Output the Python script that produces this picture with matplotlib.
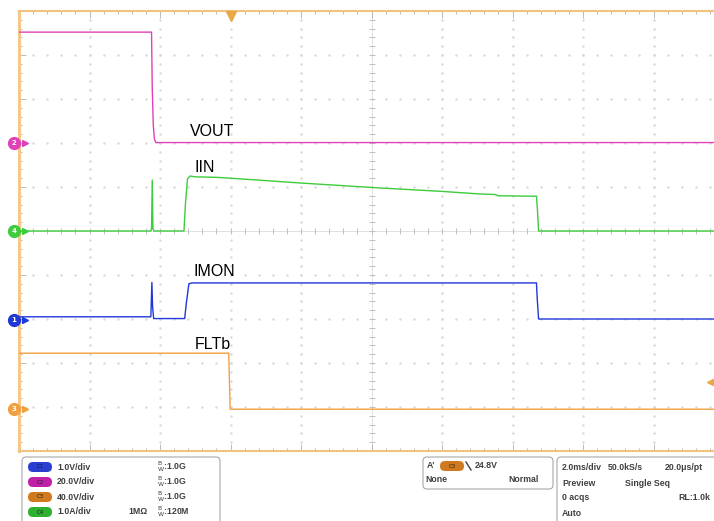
import numpy as np
import matplotlib.pyplot as plt
from matplotlib.patches import FancyBboxPatch

# Data read from the scope capture (time in ms, 2 ms/div)
vout_t = [0, 3.76, 3.78, 3.81, 3.84, 3.88, 20]
vout_v = [50.4, 50.4, 25.0, 8.0, 2.0, 0.2, 0.2]          # V, 20 V/div

iin_t = [0, 3.74, 3.76, 3.78, 3.80, 3.83, 4.68, 4.72, 4.78, 4.85, 5.0, 5.6,
         6.0, 8.0, 10.2, 12.0, 13.1, 13.5, 13.6, 14.68, 14.71, 14.74, 20]
iin_a = [0, 0, 0.05, 1.16, 0.05, 0, 0, 0.6, 1.18, 1.25, 1.23, 1.22,
         1.20, 1.09, 0.98, 0.90, 0.84, 0.83, 0.80, 0.79, 0.45, 0, 0]   # A, 1 A/div

imon_t = [0, 3.74, 3.77, 3.79, 3.82, 3.86, 4.70, 4.75, 4.82, 4.9, 14.68, 14.70, 14.74, 20]
imon_v = [0.07, 0.07, 0.85, 0.3, 0.03, 0.03, 0.03, 0.4, 0.82, 0.84, 0.84, 0.5, 0.02, 0.02]  # V, 1 V/div

fltb_t = [0, 5.95, 5.99, 20]
fltb_v = [50.9, 50.9, 0, 0]                                # V, 40 V/div

# channel settings: name, scale per div, marker position (div), colour, channel number
channels = [
    ('VOUT', 20.0, 2.0, '#e040b8', '2', vout_t, vout_v),
    ('IIN', 1.0, 0.0, '#3ccc3c', '4', iin_t, iin_a),
    ('IMON', 1.0, -2.02, '#2038d8', '1', imon_t, imon_v),
    ('FLTb', 40.0, -4.05, '#f0a040', '3', fltb_t, fltb_v),
]
label_pos = {'VOUT': (4.85, 2.27), 'IIN': (4.99, 1.45), 'IMON': (4.94, -0.93), 'FLTb': (4.99, -2.59)}

fig = plt.figure(figsize=(7.14, 5.21), dpi=100)
ax = fig.add_axes([19 / 714, 70 / 521, 705 / 714, 440 / 521])
ax.set_xlim(0, 20)
ax.set_ylim(-5, 5)

# dotted graticule
xs_minor = np.arange(0, 20.01, 0.4)
ys_minor = np.arange(-5, 5.01, 0.2)
for gx in range(2, 20, 2):
    if gx != 10:
        ax.plot(np.full(len(ys_minor), gx), ys_minor, ls='none', marker='.', ms=1.5, color='#d8d8d8', zorder=1)
for gy in range(-4, 5):
    if gy != 0:
        ax.plot(xs_minor, np.full(len(xs_minor), gy), ls='none', marker='.', ms=1.5, color='#d8d8d8', zorder=1)
# centre axes with ticks
ax.axvline(10, color='#dcdcdc', lw=0.6, zorder=1)
ax.axhline(0, color='#dcdcdc', lw=0.6, zorder=1)
ax.plot(np.full(len(ys_minor), 10), ys_minor, ls='none', marker='_', ms=4, color='#c0c0c0', mew=0.7, zorder=1)
ax.plot(xs_minor, np.zeros(len(xs_minor)), ls='none', marker='|', ms=4, color='#c0c0c0', mew=0.7, zorder=1)

# traces
for name, scale, pos, col, num, t, v in channels:
    y = pos + np.array(v) / scale
    ax.plot(t, y, color=col, lw=1.0, zorder=3)
    lx, ly = label_pos[name]
    ax.text(lx, ly, name, fontsize=11.5, family='Liberation Sans', color='black', va='center', ha='left')
    # channel ground marker on the left edge
    ax.plot(-0.14, pos, marker='o', ms=8.5, color=col, clip_on=False, zorder=5)
    ax.plot(0.17, pos, marker='>', ms=4, color=col, clip_on=False, zorder=5)
    ax.text(-0.14, pos, num, fontsize=5, color='white', ha='center', va='center', fontweight='bold', zorder=6)

# trigger markers
ax.plot(6.0, 4.88, marker='v', ms=7, color='#e8a848', clip_on=False, zorder=5)
ax.plot(19.6, -4.05 + 24.8 / 40, marker='<', ms=5, color='#e8a848', clip_on=False, zorder=5)

# frame
ax.spines['right'].set_visible(False)
ax.spines['left'].set_color('#f4c88a')
ax.spines['left'].set_linewidth(2.2)
for side in ['top', 'bottom']:
    ax.spines[side].set_color('#f2c27e')
    ax.spines[side].set_linewidth(1.5)
ax.set_xticks(np.arange(0, 20.01, 2))
ax.set_xticks(xs_minor, minor=True)
ax.set_yticks(np.arange(-5, 5.01, 1))
ax.set_yticks(ys_minor, minor=True)
ax.tick_params(which='both', direction='in', color='#b0b0b0', labelleft=False, labelbottom=False,
               top=True, bottom=True, left=True, right=False, width=0.6)
ax.tick_params(which='major', length=5)
ax.tick_params(which='minor', length=2.5)

# status area below the screen (pixel coordinates)
ov = fig.add_axes([0, 0, 1, 1])
ov.set_xlim(0, 714)
ov.set_ylim(521, 0)
ov.axis('off')
ov.patch.set_alpha(0)

def panel(x0, y0, x1, y1):
    ov.add_patch(FancyBboxPatch((x0, y0), x1 - x0, y1 - y0, boxstyle='round,pad=0,rounding_size=4',
                                fc='none', ec='#a8a8a8', lw=0.8, clip_on=False))

def badge(xc, yc, col, txt):
    ov.add_patch(FancyBboxPatch((xc - 12, yc - 5), 24, 10, boxstyle='round,pad=0,rounding_size=5',
                                fc=col, ec='none'))
    ov.text(xc, yc, txt, fontsize=4, color='#202020', ha='center', va='center')

txt_kw = dict(fontsize=6.3, color='#404040', fontweight='bold', va='center', family='Liberation Sans')

panel(22, 457, 220, 530)
scale_rows = [('C1', '#2a3fd0', '1.0V/div'), ('C2', '#c020a8', '20.0V/div'),
              ('C3', '#d07a20', '40.0V/div'), ('C4', '#30b030', '1.0A/div')]
for k, (c, col, s) in enumerate(scale_rows):
    yy = 467 + 15 * k
    badge(40, yy, col, c)
    ov.text(57, yy, s, **txt_kw)
    ov.text(157, yy, r'$^{\mathsf{B}}_{\mathsf{W}}$' + (':120M' if k == 3 else ':1.0G'), **txt_kw)
ov.text(128, 512, '1MΩ', **txt_kw)

panel(423, 457, 553, 489)
ov.text(427, 466, "A'", **txt_kw)
badge(452, 466, '#d07a20', 'C3')
ov.plot([466, 471], [462, 470], color='#404040', lw=1)
ov.text(475, 466, '24.8V', **txt_kw)
ov.text(425, 480, 'None', **txt_kw)
ov.text(508, 480, 'Normal', **txt_kw)

panel(557, 457, 740, 530)
ov.text(562, 467, '2.0ms/div', **txt_kw)
ov.text(608, 467, '50.0kS/s', **txt_kw)
ov.text(665, 467, '20.0μs/pt', **txt_kw)
ov.text(562, 483, 'Preview', **txt_kw)
ov.text(625, 483, 'Single Seq', **txt_kw)
ov.text(562, 498, '0 acqs', **txt_kw)
ov.text(678, 498, 'RL:1.0k', **txt_kw)
ov.text(562, 513, 'Auto', **txt_kw)

fig.savefig('out.png', dpi=100)
